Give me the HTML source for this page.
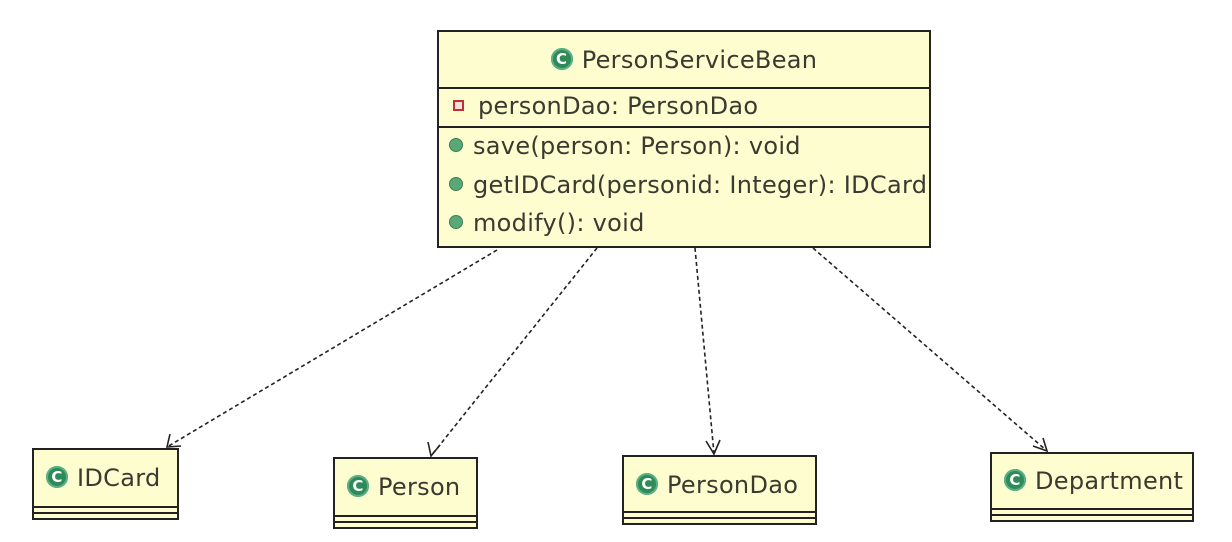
<!DOCTYPE html>
<html><head><meta charset="utf-8"><style>
html,body{margin:0;padding:0;background:#fff;}
body{width:1232px;height:542px;position:relative;overflow:hidden;font-family:"DejaVu Sans","Liberation Sans",sans-serif;color:#3a3a30;}
.box{position:absolute;background:#fdfdd0;border:2px solid #222;box-sizing:border-box;}
.c{display:inline-block;width:22px;height:22px;border-radius:50%;background:#2e8b57;color:#fff;font-size:15px;font-weight:bold;text-align:center;line-height:22px;vertical-align:middle;margin-right:9px;box-shadow:inset 0 0 0 2px #5cb088;position:relative;top:-2px;}
.t{position:absolute;font-size:24px;letter-spacing:0.3px;white-space:nowrap;line-height:28px;}
.hl{position:absolute;left:0;right:0;height:2px;background:#222;}
.dot{display:inline-block;width:12px;height:12px;border-radius:50%;background:#5aa878;border:1px solid #3b7f56;vertical-align:middle;margin-right:10px;position:relative;top:-2px;}
.sq{display:inline-block;width:7px;height:7px;border:2px solid #c03030;background:#f5e0e0;vertical-align:middle;margin-right:14px;margin-left:2px;position:relative;top:-2px;}
</style></head><body>
<svg width="1232" height="542" style="position:absolute;left:0;top:0">
<g stroke="#222" stroke-width="1.6" fill="none" stroke-dasharray="4,3">
<line x1="497" y1="250" x2="167" y2="447"/>
<line x1="597" y1="248" x2="431" y2="456"/>
<line x1="695" y1="248" x2="714" y2="454"/>
<line x1="813" y1="248" x2="1047" y2="451"/>
</g>
<g stroke="#222" stroke-width="1.6" fill="none">
<polyline points="170,434 167,447 181,446"/>
<polyline points="428,442 431,456 440,445"/>
<polyline points="706,441 714,454 720,440"/>
<polyline points="1033,446 1047,451 1043,438"/>
</g>
</svg>
<div class="box" style="left:437px;top:30px;width:494px;height:218px;">
<div class="t" style="left:0;right:0;top:14px;text-align:center;"><span class="c">C</span>PersonServiceBean</div>
<div class="hl" style="top:55px"></div>
<div class="t" style="left:12px;top:60px;"><span class="sq"></span>personDao: PersonDao</div>
<div class="hl" style="top:94px"></div>
<div class="t" style="left:10px;top:100px;"><span class="dot"></span>save(person: Person): void</div>
<div class="t" style="left:10px;top:139px;"><span class="dot"></span>getIDCard(personid: Integer): IDCard</div>
<div class="t" style="left:10px;top:177px;"><span class="dot"></span>modify(): void</div>
</div>
<div class="box" style="left:32px;top:448px;width:147px;height:72px;">
<div class="t" style="left:12px;top:14px;"><span class="c">C</span>IDCard</div>
<div class="hl" style="top:56px"></div><div class="hl" style="top:62px"></div>
</div>
<div class="box" style="left:333px;top:457px;width:145px;height:72px;">
<div class="t" style="left:12px;top:14px;"><span class="c">C</span>Person</div>
<div class="hl" style="top:56px"></div><div class="hl" style="top:62px"></div>
</div>
<div class="box" style="left:622px;top:455px;width:195px;height:70px;">
<div class="t" style="left:12px;top:14px;"><span class="c">C</span>PersonDao</div>
<div class="hl" style="top:54px"></div><div class="hl" style="top:60px"></div>
</div>
<div class="box" style="left:990px;top:452px;width:204px;height:70px;">
<div class="t" style="left:12px;top:13px;"><span class="c">C</span>Department</div>
<div class="hl" style="top:54px"></div><div class="hl" style="top:60px"></div>
</div>
</body></html>
